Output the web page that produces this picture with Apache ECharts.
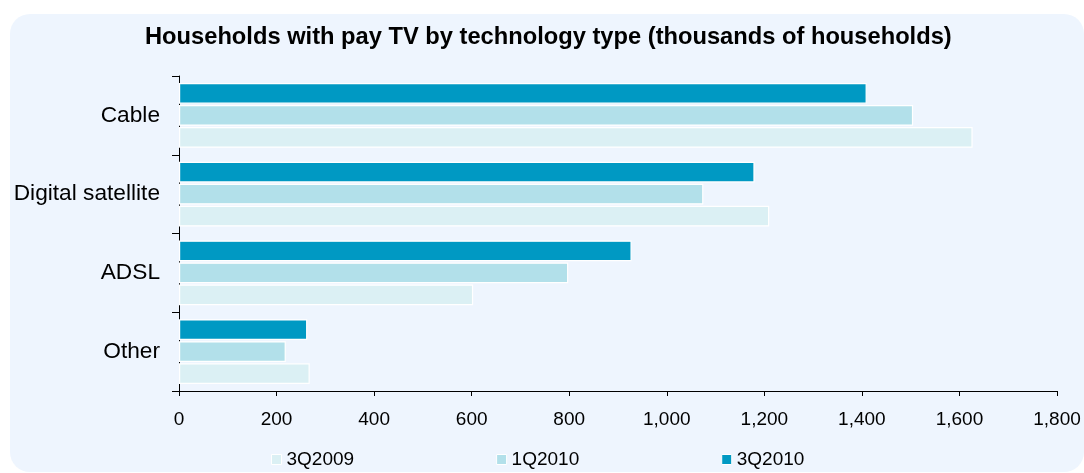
<!DOCTYPE html>
<html>
<head>
<meta charset="utf-8">
<script src="https://cdn.jsdelivr.net/npm/echarts@6/dist/echarts.min.js"></script>
<style>
  html, body { margin: 0; padding: 0; background: #ffffff; }
  #chart { width: 1084px; height: 473px; }
</style>
</head>
<body>
<div id="chart"></div>
<script>
// Categories listed bottom-to-top along the vertical axis
const categories = ['Other', 'ADSL', 'Digital satellite', 'Cable'];
const seriesNames = ['3Q2009', '1Q2010', '3Q2010'];
// Thousands of households
const values3Q2009 = [268, 603, 1210, 1627];
const values1Q2010 = [219, 798, 1075, 1505];
const values3Q2010 = [263, 928, 1180, 1410];
const xTicks = { min: 0, max: 1800, interval: 200 };

const colors = {
  '3Q2009': '#DBF0F4',
  '1Q2010': '#B2E0EA',
  '3Q2010': '#0099C3'
};
const font = 'Liberation Sans, Arial, sans-serif';

function barSeries(name, data) {
  return {
    name: name,
    type: 'bar',
    data: data,
    barCategoryGap: '18%',
    barGap: '6%',
    itemStyle: { color: colors[name], borderColor: '#ffffff', borderWidth: 1.2 }
  };
}

const chart = echarts.init(document.getElementById('chart'), null, { renderer: 'canvas' });
chart.setOption({
  animation: false,
  backgroundColor: '#ffffff',
  graphic: [{
    type: 'rect',
    z: -10,
    silent: true,
    shape: { x: 10, y: 14, width: 1074, height: 458, r: 20 },
    style: { fill: '#EEF5FE' }
  }],
  title: {
    text: 'Households with pay TV by technology type (thousands of households)',
    left: 140,
    top: 20,
    textStyle: { fontFamily: font, fontSize: 23.7, fontWeight: 'bold', color: '#000' }
  },
  legend: {
    data: seriesNames,
    left: 266,
    top: 445,
    itemWidth: 10,
    itemHeight: 10,
    itemGap: 142,
    icon: 'rect',
    itemStyle: { borderColor: '#ffffff', borderWidth: 1 },
    textStyle: { fontFamily: font, fontSize: 19, color: '#000' }
  },
  grid: { left: 179, right: 27, top: 76, bottom: 82 },
  xAxis: {
    type: 'value',
    min: xTicks.min,
    max: xTicks.max,
    interval: xTicks.interval,
    splitLine: { show: false },
    axisLine: { show: true, lineStyle: { color: '#000', width: 1 } },
    axisTick: { show: true, length: 5, lineStyle: { color: '#000' } },
    axisLabel: {
      margin: 19,
      fontFamily: font, fontSize: 19, color: '#000',
      formatter: v => v.toLocaleString('en-US')
    }
  },
  yAxis: {
    type: 'category',
    data: categories,
    axisLine: { show: true, lineStyle: { color: '#000', width: 1 } },
    axisTick: { show: true, length: 7, lineStyle: { color: '#000' } },
    axisLabel: { margin: 19, fontFamily: font, fontSize: 22.7, color: '#000' }
  },
  series: [
    barSeries('3Q2010', values3Q2010),
    barSeries('1Q2010', values1Q2010),
    barSeries('3Q2009', values3Q2009)
  ]
});
</script>
</body>
</html>
